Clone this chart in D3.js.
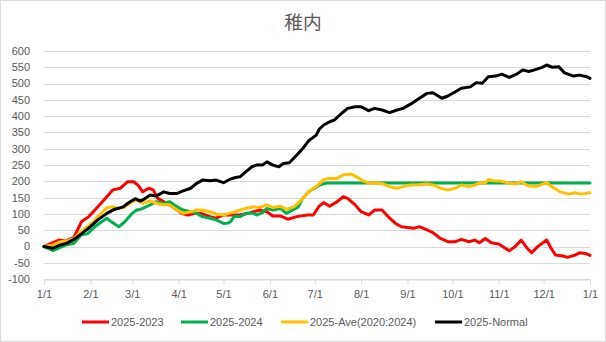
<!DOCTYPE html>
<html><head><meta charset="utf-8">
<script src="https://cdn.jsdelivr.net/npm/d3@7"></script>
<style>
html,body{margin:0;padding:0;background:#fff;}
svg{display:block;font-family:"Liberation Sans",Arial,sans-serif;}
</style></head>
<body><svg id="c" width="606" height="342"></svg>
<script>
const title = "稚内";
const seriesNames = ["2025-2023", "2025-2024", "2025-Ave(2020:2024)", "2025-Normal"];
const seriesColors = ["#FF0000", "#00B050", "#FFC000", "#000000"];
const yTicks = [-100, -50, 0, 50, 100, 150, 200, 250, 300, 350, 400, 450, 500, 550, 600];
const xTickLabels = ["1/1","2/1","3/1","4/1","5/1","6/1","7/1","8/1","9/1","10/1","11/1","12/1","1/1"];

// [day of year offset from 1/1, value]
const red2023 = [[0,0],[4,8],[10,20],[14,17],[20,28],[25,76],[30,92],[36,122],[42,153],[46,174],[51,179],[56,199],[60,199],[63,188],[66,168],[70,179],[73,174],[76,148],[80,138],[86,122],[92,102],[96,97],[101,102],[105,102],[111,92],[115,87],[120,97],[124,97],[131,97],[138,104],[144,112],[149,107],[153,94],[158,94],[163,84],[169,92],[176,97],[180,97],[184,124],[187,135],[191,124],[196,138],[200,153],[203,148],[208,128],[212,107],[217,97],[221,112],[226,112],[230,92],[235,71],[239,61],[247,56],[251,61],[256,51],[260,43],[265,25],[270,15],[275,15],[279,22],[284,15],[288,20],[291,12],[295,25],[299,12],[304,8],[311,-13],[315,0],[319,20],[323,-5],[326,-19],[330,0],[336,20],[339,-5],[342,-26],[347,-29],[350,-33],[355,-26],[358,-19],[362,-21],[365,-27]];
const green2024 = [[0,0],[6,-12],[11,-2],[15,5],[20,10],[25,36],[29,39],[34,61],[39,78],[42,87],[45,76],[50,61],[54,76],[59,102],[62,112],[64,114],[66,117],[71,128],[75,138],[80,133],[84,138],[89,122],[93,112],[98,107],[102,102],[106,92],[111,87],[115,82],[120,71],[123,72],[125,78],[127,92],[131,92],[135,102],[140,102],[142,97],[146,104],[149,117],[153,112],[158,117],[162,102],[166,112],[170,122],[173,148],[177,168],[181,180],[185,190],[189,195],[365,195]];
const aveYears = [[0,0],[6,5],[11,15],[15,17],[20,25],[24,43],[29,61],[33,76],[37,97],[42,119],[46,122],[50,117],[54,122],[59,138],[62,143],[66,133],[71,140],[75,133],[80,128],[84,128],[89,112],[93,102],[98,107],[102,112],[106,112],[111,107],[115,100],[120,97],[124,102],[131,112],[135,117],[140,122],[144,120],[149,128],[153,120],[158,124],[162,114],[167,122],[171,138],[176,163],[180,179],[183,188],[187,206],[191,209],[196,209],[200,220],[205,223],[209,214],[213,202],[218,194],[222,196],[227,192],[231,184],[236,179],[240,184],[245,189],[249,189],[256,192],[260,189],[265,179],[270,174],[275,179],[279,189],[284,184],[288,189],[292,196],[295,196],[297,206],[300,202],[305,201],[312,194],[315,192],[319,199],[324,186],[329,184],[336,196],[341,179],[345,168],[351,161],[355,165],[359,161],[365,165]];
const normal = [[0,0],[6,-5],[11,5],[15,10],[20,22],[25,39],[31,61],[36,82],[42,102],[47,114],[53,122],[56,133],[61,147],[64,140],[66,143],[71,158],[75,155],[80,168],[84,163],[89,163],[93,171],[98,179],[102,194],[106,204],[111,202],[115,204],[120,196],[124,206],[128,212],[131,214],[135,230],[139,245],[142,250],[146,250],[149,260],[153,250],[157,245],[160,255],[164,257],[169,281],[173,301],[177,325],[182,342],[184,360],[187,373],[191,383],[194,388],[199,409],[203,424],[208,429],[212,429],[217,417],[221,424],[226,419],[231,411],[236,419],[240,424],[245,437],[251,455],[256,470],[260,472],[266,455],[270,462],[275,475],[279,486],[285,490],[289,503],[293,501],[297,521],[302,523],[306,529],[311,519],[316,529],[320,542],[324,537],[328,542],[333,550],[336,557],[340,550],[344,552],[348,533],[354,523],[358,526],[363,521],[365,516]];
const seriesData = [red2023, green2024, aveYears, normal];

const svg = d3.select("#c");
const W = 606, H = 342;
const start = new Date(2025, 0, 1), end = new Date(2026, 0, 1);
const x = d3.scaleTime().domain([start, end]).range([44, 590]);
const y = d3.scaleLinear().domain([-100, 600]).range([279.2, 51]);

svg.append("rect").attr("x",0.5).attr("y",0.5).attr("width",W-1).attr("height",H-1)
  .attr("fill","#fff").attr("stroke","#d9d9d9");

svg.append("text").attr("x",303).attr("y",29).attr("text-anchor","middle")
  .attr("font-size","18.7px").attr("fill","#595959")
  .attr("font-family","'Noto Sans CJK JP',sans-serif").text(title);

// grid
const gGrid = svg.append("g");
gGrid.selectAll("line").data(yTicks).join("line")
  .attr("x1",44).attr("x2",590)
  .attr("y1",d=>Math.round(y(d))+0.5).attr("y2",d=>Math.round(y(d))+0.5)
  .attr("stroke","#d9d9d9").attr("stroke-width",1);

// y labels
svg.append("g").selectAll("text").data(yTicks).join("text")
  .attr("x",30).attr("y",d=>y(d)).attr("dy","0.35em").attr("text-anchor","end")
  .attr("font-size","11px").attr("fill","#595959").text(d=>d);

// x axis
const monthTicks = d3.timeMonth.range(start, d3.timeDay.offset(end,1));
const xAxis = d3.axisBottom(x).tickValues(monthTicks)
  .tickFormat((d,i)=>xTickLabels[i]).tickSize(5).tickPadding(6);
const gx = svg.append("g").attr("transform",`translate(0,${Math.round(y(-100))+0.5})`).call(xAxis);
gx.select(".domain").attr("stroke","#d9d9d9");
gx.selectAll(".tick line").attr("stroke","#d9d9d9");
gx.selectAll(".tick text").attr("font-size","11px").attr("fill","#595959")
  .attr("font-family","'Liberation Sans',Arial,sans-serif");

// lines
const line = d3.line()
  .x(d=>x(d3.timeDay.offset(start,d[0])))
  .y(d=>y(d[1]));
svg.append("g").selectAll("path").data(seriesData).join("path")
  .attr("d",line).attr("fill","none")
  .attr("stroke",(d,i)=>seriesColors[i]).attr("stroke-width",3)
  .attr("stroke-linejoin","round").attr("stroke-linecap","round");

// legend
const legX = [82, 181, 281, 435];
const lg = svg.append("g").selectAll("g").data(seriesNames).join("g")
  .attr("transform",(d,i)=>`translate(${legX[i]},322)`);
lg.append("line").attr("x1",0).attr("x2",27).attr("y1",0).attr("y2",0)
  .attr("stroke",(d,i)=>seriesColors[i]).attr("stroke-width",3);
lg.append("text").attr("x",29).attr("dy","0.35em").attr("font-size","11px")
  .attr("fill","#595959").text(d=>d);
</script></body></html>
